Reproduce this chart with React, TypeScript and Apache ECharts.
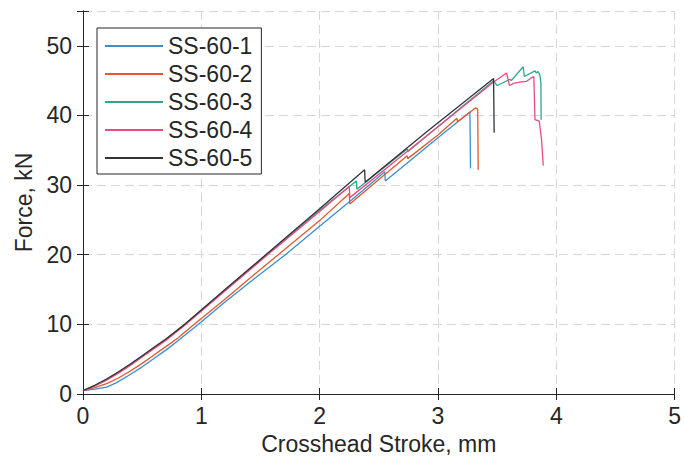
import React, { useEffect, useRef } from "react";
import * as echarts from "echarts";

const seriesNames = ["SS-60-1", "SS-60-2", "SS-60-3", "SS-60-4", "SS-60-5"];
const seriesColors = ["#3a8fd3", "#e0582b", "#2aa78c", "#ec4a86", "#333333"];

const stroke1 = [0, 0.1, 0.2, 0.28, 0.4, 0.5, 0.6, 0.7, 0.8, 0.976, 1.2, 1.45, 1.71, 2.0, 2.3, 2.55, 2.555, 2.8, 3.0, 3.27, 3.275];
const force1 = [0.5, 0.7, 1.0, 1.6, 2.8, 3.9, 5.1, 6.3, 7.6, 10.0, 13.2, 16.6, 20.0, 24.1, 28.3, 31.9, 30.6, 34.0, 36.8, 40.5, 32.4];

const stroke2 = [0, 0.1, 0.2, 0.3, 0.4, 0.5, 0.6, 0.7, 0.8, 0.94, 1.2, 1.45, 1.65, 2.0, 2.25, 2.255, 2.5, 2.74, 2.745, 3.0, 3.16, 3.165, 3.32, 3.336, 3.34];
const force2 = [0.5, 0.9, 1.5, 2.3, 3.3, 4.4, 5.6, 6.8, 8.0, 10.0, 13.6, 17.2, 20.0, 24.9, 28.8, 27.3, 30.8, 34.2, 33.8, 37.2, 39.6, 39.1, 41.1, 40.9, 32.2];

const stroke3 = [0, 0.1, 0.2, 0.3, 0.4, 0.5, 0.6, 0.7, 0.86, 1.2, 1.55, 2.0, 2.31, 2.315, 2.74, 2.745, 3.2, 3.47, 3.5, 3.61, 3.62, 3.72, 3.73, 3.82, 3.83, 3.845, 3.86, 3.87, 3.872];
const force3 = [0.5, 1.2, 2.1, 3.1, 4.2, 5.4, 6.6, 7.8, 10.0, 14.9, 20.0, 26.4, 30.6, 29.4, 35.2, 34.8, 41.2, 45.0, 44.3, 45.2, 45.0, 47.0, 45.6, 46.4, 46.1, 46.3, 45.9, 44.7, 39.4];

const stroke4 = [0, 0.1, 0.2, 0.3, 0.4, 0.5, 0.6, 0.7, 0.87, 1.2, 1.56, 2.0, 2.25, 2.255, 2.7, 3.2, 3.47, 3.58, 3.605, 3.64, 3.69, 3.75, 3.79, 3.81, 3.82, 3.856, 3.875, 3.89];
const force4 = [0.5, 1.15, 2.0, 3.0, 4.1, 5.3, 6.5, 7.7, 10.0, 14.8, 20.0, 26.2, 29.8, 28.2, 34.3, 41.1, 44.8, 46.1, 44.3, 44.6, 44.8, 44.9, 45.4, 45.6, 39.4, 39.2, 36.6, 32.8];

const stroke5 = [0, 0.1, 0.2, 0.3, 0.4, 0.5, 0.6, 0.7, 0.86, 1.2, 1.545, 2.0, 2.38, 2.385, 2.9, 3.47, 3.475];
const force5 = [0.5, 1.25, 2.15, 3.2, 4.3, 5.5, 6.7, 7.9, 10.0, 15.0, 20.0, 26.6, 32.2, 30.4, 37.6, 45.3, 37.5];

const yTicks = [0, 10, 20, 30, 40, 50];

const strokes = [stroke1, stroke2, stroke3, stroke4, stroke5];
const forces = [force1, force2, force3, force4, force5];

const FONT = "'Liberation Sans', Arial, sans-serif";
const AXIS_COLOR = "#262626";

export default function App() {
  const ref = useRef<HTMLDivElement>(null);
  useEffect(() => {
    if (!ref.current) return;
    const chart = echarts.init(ref.current, undefined, { renderer: "svg" });
    const series = seriesNames.map((name, i) => ({
      name,
      type: "line",
      xAxisIndex: 0,
      yAxisIndex: 0,
      symbol: "none",
      data: strokes[i].map((x, j) => [x, forces[i][j]]),
      lineStyle: { color: seriesColors[i], width: 1.3 },
      itemStyle: { color: seriesColors[i] },
    }));
    const tickStyle = { show: true, inside: true, length: 6, lineStyle: { color: AXIS_COLOR, width: 1 } };
    const lineStyle = { show: true, lineStyle: { color: AXIS_COLOR, width: 1 } };
    const gridLine = { show: true, lineStyle: { color: "#d6d6d6", type: [9, 5], width: 1 } };
    chart.setOption({
      animation: false,
      backgroundColor: "#ffffff",
      textStyle: { fontFamily: FONT },
      grid: { left: 83, right: 5, top: 11, bottom: 64 },
      legend: {
        orient: "vertical",
        left: 97,
        top: 28,
        data: seriesNames.map((n) => ({ name: n, icon: "rect" })),
        itemWidth: 58,
        itemHeight: 2,
        itemGap: 0,
        padding: [4, 9, 2, 8],
        borderColor: AXIS_COLOR,
        borderWidth: 1,
        backgroundColor: "#ffffff",
        textStyle: { fontSize: 23, color: AXIS_COLOR, fontFamily: FONT, lineHeight: 28 },
      },
      xAxis: [
        {
          type: "value",
          min: 0,
          max: 5,
          interval: 1,
          position: "bottom",
          name: "Crosshead Stroke, mm",
          nameLocation: "middle",
          nameGap: 38,
          nameTextStyle: { fontSize: 23, color: AXIS_COLOR, fontFamily: FONT },
          axisLine: lineStyle,
          axisTick: tickStyle,
          axisLabel: { fontSize: 23, color: AXIS_COLOR, margin: 10, fontFamily: FONT },
          splitLine: gridLine,
        },
        {
          type: "value",
          min: 0,
          max: 5,
          interval: 1,
          position: "top",
          axisLine: lineStyle,
          axisTick: tickStyle,
          axisLabel: { show: false },
          splitLine: { show: false },
        },
      ],
      yAxis: [
        {
          type: "value",
          min: 0,
          max: 55,
          interval: 10,
          position: "left",
          name: "Force, kN",
          nameLocation: "middle",
          nameGap: 41,
          nameTextStyle: { fontSize: 23, color: AXIS_COLOR, fontFamily: FONT },
          axisLine: lineStyle,
          axisTick: tickStyle,
          axisLabel: {
            fontSize: 23,
            color: AXIS_COLOR,
            margin: 11,
            fontFamily: FONT,
            formatter: (v: number) => (yTicks.includes(v) ? String(v) : ""),
          },
          splitLine: gridLine,
        },
        {
          type: "value",
          min: 0,
          max: 55,
          interval: 10,
          position: "right",
          axisLine: lineStyle,
          axisTick: tickStyle,
          axisLabel: { show: false },
          splitLine: { show: false },
        },
      ],
      series,
    });
    return () => chart.dispose();
  }, []);
  return (
    <div
      ref={ref}
      style={{ position: "fixed", left: 0, top: 0, width: 684, height: 460, background: "#fff" }}
    />
  );
}
